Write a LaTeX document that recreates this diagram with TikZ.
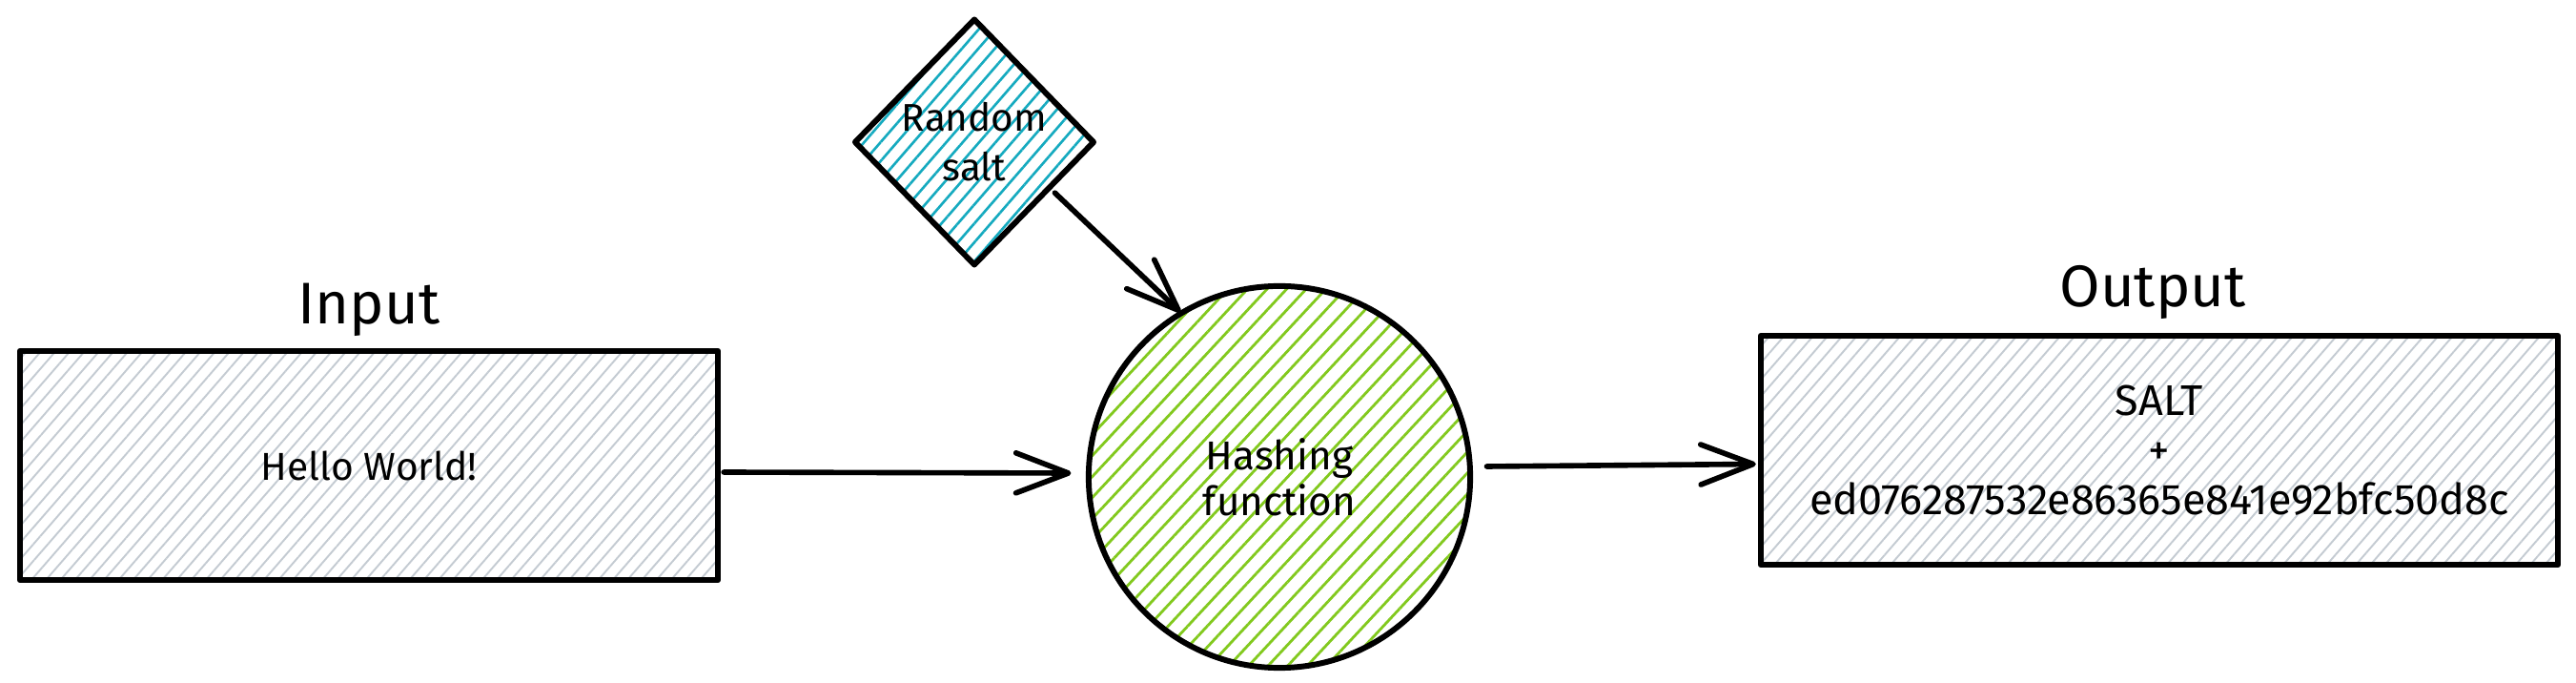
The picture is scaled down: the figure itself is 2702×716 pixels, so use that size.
\documentclass[tikz,border=0pt]{standalone}
\usepackage{fontspec}
\setmainfont{Fira Sans}
\usetikzlibrary{shapes.geometric,arrows.meta,patterns.meta}
\definecolor{hgray}{HTML}{C4CBD2}
\definecolor{hgreen}{HTML}{82C91E}
\definecolor{hcyan}{HTML}{15AABF}
\begin{document}
\begin{tikzpicture}[x=0.01cm,y=-0.01cm,
  outline/.style={draw=black, line width=1.7pt, line join=round},
  graybox/.style={outline, rectangle, inner sep=0pt, minimum height=2.40cm,
    pattern={Lines[angle=49,distance=0.115cm,line width=0.55pt]}, pattern color=hgray},
  saltbox/.style={outline, diamond, inner sep=0pt, minimum width=2.51cm, minimum height=2.58cm,
    align=center, font=\fontsize{11.5}{14.8}\selectfont,
    pattern={Lines[angle=49,distance=0.13cm,line width=0.75pt]}, pattern color=hcyan},
  hashbox/.style={outline, circle, inner sep=0pt, minimum size=4.0cm,
    align=center, font=\fontsize{12}{13.7}\selectfont,
    pattern={Lines[angle=47,distance=0.15cm,line width=0.8pt]}, pattern color=hgreen},
  title/.style={font=\fontsize{17.5}{20}\selectfont, anchor=base, inner sep=0pt},
  arr/.style={line width=1.6pt, line cap=round,
    -{Straight Barb[length=0.55cm,width=0.42cm,line width=1.6pt,round]}},
]
\useasboundingbox (0,0) rectangle (2702,716);

% Input
\node[title] (intitle) at (387,340) {Input};
\node[graybox, minimum width=7.32cm, font=\fontsize{11.6}{14}\selectfont] (inbox) at (387,488) {Hello World!};

% Random salt
\node[saltbox] (salt) at (1022,149) {Random\\salt};

% Hashing function
\node[hashbox] (hash) at (1342,500) {Hashing\\function};

% Output
\node[title] (outtitle) at (2258,322) {Output};
\node[graybox, minimum width=8.36cm, align=center, font=\fontsize{12.8}{14.8}\selectfont] (outbox) at (2265,472) {SALT\\+\\ed076287532e86365e841e92bfc50d8c};

% Connectors
\draw[arr] ([xshift=0.05cm,yshift=-0.07cm]inbox.east) -- ([xshift=-0.17cm,yshift=0.04cm]hash.west);
\draw[arr] ([xshift=0.21cm,yshift=0.12cm]salt.south east) -- (hash.121);
\draw[arr] ([xshift=0.16cm,yshift=0.11cm]hash.east) -- ([xshift=-0.02cm,yshift=-0.145cm]outbox.west);
\end{tikzpicture}
\end{document}
